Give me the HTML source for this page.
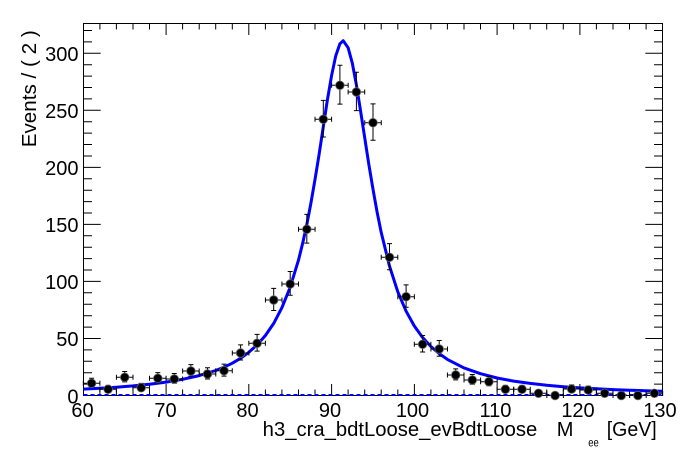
<!DOCTYPE html>
<html><head><meta charset="utf-8"><style>
html,body{margin:0;padding:0;background:#fff;}
svg{display:block;}
text{font-family:"Liberation Sans",Arial,sans-serif;fill:#000;}
</style></head><body>
<svg width="696" height="472" viewBox="0 0 696 472" xmlns="http://www.w3.org/2000/svg">
<rect width="696" height="472" fill="#fff"/>
<!-- frame -->
<rect x="83.5" y="23.5" width="579" height="372" fill="none" stroke="#000" stroke-width="1"/>
<!-- x ticks bottom & top -->
<path stroke="#000" stroke-width="1" fill="none" d="
M166.1 395.5V384 M248.8 395.5V384 M331.6 395.5V384 M414.4 395.5V384 M497.1 395.5V384 M579.9 395.5V384
M99.9 395.5V389.5 M116.4 395.5V389.5 M133 395.5V389.5 M149.5 395.5V389.5 M182.6 395.5V389.5 M199.2 395.5V389.5 M215.7 395.5V389.5 M232.3 395.5V389.5 M265.4 395.5V389.5 M281.9 395.5V389.5 M298.5 395.5V389.5 M315 395.5V389.5 M348.1 395.5V389.5 M364.7 395.5V389.5 M381.2 395.5V389.5 M397.8 395.5V389.5 M430.9 395.5V389.5 M447.4 395.5V389.5 M464 395.5V389.5 M480.5 395.5V389.5 M513.6 395.5V389.5 M530.2 395.5V389.5 M546.7 395.5V389.5 M563.3 395.5V389.5 M596.4 395.5V389.5 M613 395.5V389.5 M629.5 395.5V389.5 M646.1 395.5V389.5
M166.1 23.5V35 M248.8 23.5V35 M331.6 23.5V35 M414.4 23.5V35 M497.1 23.5V35 M579.9 23.5V35
M99.9 23.5V29.5 M116.4 23.5V29.5 M133 23.5V29.5 M149.5 23.5V29.5 M182.6 23.5V29.5 M199.2 23.5V29.5 M215.7 23.5V29.5 M232.3 23.5V29.5 M265.4 23.5V29.5 M281.9 23.5V29.5 M298.5 23.5V29.5 M315 23.5V29.5 M348.1 23.5V29.5 M364.7 23.5V29.5 M381.2 23.5V29.5 M397.8 23.5V29.5 M430.9 23.5V29.5 M447.4 23.5V29.5 M464 23.5V29.5 M480.5 23.5V29.5 M513.6 23.5V29.5 M530.2 23.5V29.5 M546.7 23.5V29.5 M563.3 23.5V29.5 M596.4 23.5V29.5 M613 23.5V29.5 M629.5 23.5V29.5 M646.1 23.5V29.5
"/>
<!-- y ticks left & right -->
<path stroke="#000" stroke-width="1" fill="none" d="
M83.5 338.5H100.7 M83.5 281.4H100.7 M83.5 224.4H100.7 M83.5 167.4H100.7 M83.5 110.3H100.7 M83.5 53.3H100.7
M83.5 384.1H92 M83.5 372.7H92 M83.5 361.3H92 M83.5 349.9H92 M83.5 327.1H92 M83.5 315.7H92 M83.5 304.2H92 M83.5 292.8H92 M83.5 270H92 M83.5 258.6H92 M83.5 247.2H92 M83.5 235.8H92 M83.5 213H92 M83.5 201.6H92 M83.5 190.2H92 M83.5 178.8H92 M83.5 156H92 M83.5 144.5H92 M83.5 133.1H92 M83.5 121.7H92 M83.5 98.9H92 M83.5 87.5H92 M83.5 76.1H92 M83.5 64.7H92 M83.5 41.9H92 M83.5 30.5H92
M662.5 338.5H645.3 M662.5 281.4H645.3 M662.5 224.4H645.3 M662.5 167.4H645.3 M662.5 110.3H645.3 M662.5 53.3H645.3
M662.5 384.1H654 M662.5 372.7H654 M662.5 361.3H654 M662.5 349.9H654 M662.5 327.1H654 M662.5 315.7H654 M662.5 304.2H654 M662.5 292.8H654 M662.5 270H654 M662.5 258.6H654 M662.5 247.2H654 M662.5 235.8H654 M662.5 213H654 M662.5 201.6H654 M662.5 190.2H654 M662.5 178.8H654 M662.5 156H654 M662.5 144.5H654 M662.5 133.1H654 M662.5 121.7H654 M662.5 98.9H654 M662.5 87.5H654 M662.5 76.1H654 M662.5 64.7H654 M662.5 41.9H654 M662.5 30.5H654
"/>
<!-- tick labels -->
<g font-size="20" text-anchor="end">
<text x="78.5" y="403.5">0</text>
<text x="78.5" y="346">50</text>
<text x="78.5" y="289">100</text>
<text x="78.5" y="232">150</text>
<text x="78.5" y="175">200</text>
<text x="78.5" y="118">250</text>
<text x="78.5" y="61">300</text>
</g>
<g font-size="20" text-anchor="middle">
<text x="82.5" y="417">60</text>
<text x="165.5" y="417">70</text>
<text x="247.5" y="417">80</text>
<text x="330" y="417">90</text>
<text x="412.5" y="417">100</text>
<text x="495.5" y="417">110</text>
<text x="578" y="417">120</text>
<text x="660" y="417">130</text>
</g>
<!-- axis titles -->
<text x="262.7" y="436" font-size="20" textLength="274.6" lengthAdjust="spacingAndGlyphs">h3_cra_bdtLoose_evBdtLoose</text>
<text x="556.7" y="436" font-size="20">M</text>
<text x="588.3" y="446.5" font-size="12" textLength="10.5" lengthAdjust="spacingAndGlyphs">ee</text>
<text x="606.7" y="436" font-size="20" textLength="50" lengthAdjust="spacingAndGlyphs">[GeV]</text>
<text transform="translate(36,147.3) rotate(-90)" font-size="20" textLength="117" lengthAdjust="spacingAndGlyphs">Events / ( 2 )</text>
<!-- background dashed -->
<path d="M83.5 395H662.5" stroke="#0000ff" stroke-width="2" stroke-dasharray="4,3" fill="none"/>
<!-- fit curve -->
<polyline fill="none" stroke="#0000ff" stroke-width="3" stroke-linejoin="round" points="83.3,389.1 99.9,388.3 116.4,387.2 133.0,385.9 149.5,384.2 166.1,382.1 182.6,379.3 199.2,375.6 215.7,370.5 224.0,367.2 232.3,363.2 240.6,358.3 248.8,352.3 257.1,344.9 265.4,335.5 273.7,323.4 281.9,307.7 290.2,287.2 298.5,260.1 302.6,243.5 306.8,224.6 310.9,203.2 315.0,179.5 319.2,153.7 323.3,126.7 327.4,99.9 331.6,75.5 335.7,56.0 339.9,43.8 343.2,40.7 348.1,47.7 352.3,63.1 356.4,84.9 360.5,110.5 364.7,137.6 368.8,164.2 373.0,189.3 377.1,212.1 381.2,232.4 389.5,266.1 397.8,291.8 406.1,311.2 414.4,326.1 422.6,337.5 430.9,346.5 439.2,353.6 447.4,359.4 464.0,367.9 480.5,373.7 497.1,378.0 513.6,381.1 530.2,383.4 546.7,385.3 563.3,386.7 579.9,387.9 596.4,388.8 613.0,389.6 629.5,390.2 646.1,390.8 662.7,391.3"/>
<!-- data points -->
<defs>
<g id="h">
<path d="M-8.28 0H8.28 M-8.28 -2.5V2.5 M8.28 -2.5V2.5" stroke="#000" stroke-width="1" fill="none"/>
<circle r="4.3" fill="#000" stroke="#666" stroke-width="0.8"/>
</g>
</defs>
<path stroke="#000" stroke-width="1" fill="none" d="
M91.6 378.2V387.1M89.1 378.2h5M89.1 387.1h5
M108.1 385.4V391.8M105.6 385.4h5M105.6 391.8h5
M124.7 371.5V381.9M122.2 371.5h5M122.2 381.9h5
M141.2 383.4V390.8M138.7 383.4h5M138.7 390.8h5
M157.8 372.6V382.8M155.3 372.6h5M155.3 382.8h5
M174.3 373.5V383.3M171.8 373.5h5M171.8 383.3h5
M190.9 364.6V376.3M188.4 364.6h5M188.4 376.3h5
M207.5 367.8V379M205 367.8h5M205 379h5
M224 364.1V376.1M221.5 364.1h5M221.5 376.1h5
M240.6 344.9V360M238.1 344.9h5M238.1 360h5
M257.1 334.4V351.1M254.6 334.4h5M254.6 351.1h5
M273.7 288.4V310.5M271.2 288.4h5M271.2 310.5h5
M290.2 271.5V295.3M287.7 271.5h5M287.7 295.3h5
M306.8 214.4V243.1M304.3 214.4h5M304.3 243.1h5
M323.3 100.4V137M320.8 100.4h5M320.8 137h5
M339.9 65.3V104.1M337.4 65.3h5M337.4 104.1h5
M356.4 72.2V110.6M353.9 72.2h5M353.9 110.6h5
M373 103.9V140.3M370.5 103.9h5M370.5 140.3h5
M389.5 243.6V269.8M387 243.6h5M387 269.8h5
M406.1 284.9V307.3M403.6 284.9h5M403.6 307.3h5
M422.6 335.5V352M420.1 335.5h5M420.1 352h5
M439.2 340.5V356.3M436.7 340.5h5M436.7 356.3h5
M455.7 368.9V379.9M453.2 368.9h5M453.2 379.9h5
M472.3 374.5V384.3M469.8 374.5h5M469.8 384.3h5
M488.9 376.5V385.7M486.4 376.5h5M486.4 385.7h5
M505.4 385.4V391.8M502.9 385.4h5M502.9 391.8h5
M522 385.4V391.8M519.5 385.4h5M519.5 391.8h5
M538.5 390.3V394.8M536 390.3h5
M555.1 393.4V395.5M552.6 393.4h5
M571.6 384.9V391.7M569.1 384.9h5M569.1 391.7h5
M588.2 386.1V392.5M585.7 386.1h5M585.7 392.5h5
M604.7 390.3V394.8M602.2 390.3h5
M621.3 393.4V395.5M618.8 393.4h5
M637.9 393.4V395.5M635.4 393.4h5
M654.4 390.3V394.8M651.9 390.3h5
"/>
<use href="#h" x="91.6" y="383.3"/>
<use href="#h" x="108.1" y="389.3"/>
<use href="#h" x="124.7" y="377.3"/>
<use href="#h" x="141.2" y="387.7"/>
<use href="#h" x="157.8" y="378.3"/>
<use href="#h" x="174.3" y="379"/>
<use href="#h" x="190.9" y="371"/>
<use href="#h" x="207.5" y="374"/>
<use href="#h" x="224" y="370.7"/>
<use href="#h" x="240.6" y="353"/>
<use href="#h" x="257.1" y="343.3"/>
<use href="#h" x="273.7" y="300"/>
<use href="#h" x="290.2" y="284"/>
<use href="#h" x="306.8" y="229.3"/>
<use href="#h" x="323.3" y="119.3"/>
<use href="#h" x="339.9" y="85.3"/>
<use href="#h" x="356.4" y="92"/>
<use href="#h" x="373" y="122.7"/>
<use href="#h" x="389.5" y="257.3"/>
<use href="#h" x="406.1" y="296.7"/>
<use href="#h" x="422.6" y="344.3"/>
<use href="#h" x="439.2" y="349"/>
<use href="#h" x="455.7" y="375"/>
<use href="#h" x="472.3" y="380"/>
<use href="#h" x="488.9" y="381.7"/>
<use href="#h" x="505.4" y="389.3"/>
<use href="#h" x="522" y="389.3"/>
<use href="#h" x="538.5" y="393.3"/>
<use href="#h" x="555.1" y="395.5"/>
<use href="#h" x="571.6" y="389"/>
<use href="#h" x="588.2" y="390"/>
<use href="#h" x="604.7" y="393.3"/>
<use href="#h" x="621.3" y="395.5"/>
<use href="#h" x="637.9" y="395.5"/>
<use href="#h" x="654.4" y="393.3"/>
</svg>
</body></html>
